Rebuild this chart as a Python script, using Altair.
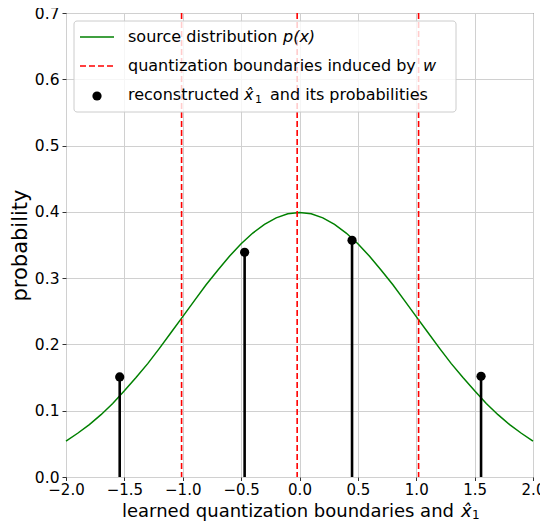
import altair as alt
import pandas as pd

# ---- data ----
curve_x = [-2.0, -1.9, -1.8, -1.7, -1.6, -1.5, -1.4, -1.3, -1.2, -1.1, -1.0,
           -0.9, -0.8, -0.7, -0.6, -0.5, -0.4, -0.3, -0.2, -0.1, 0.0,
           0.1, 0.2, 0.3, 0.4, 0.5, 0.6, 0.7, 0.8, 0.9, 1.0,
           1.1, 1.2, 1.3, 1.4, 1.5, 1.6, 1.7, 1.8, 1.9, 2.0]
curve_p = [0.054, 0.066, 0.079, 0.094, 0.111, 0.130, 0.150, 0.171, 0.194, 0.218, 0.242,
           0.266, 0.290, 0.312, 0.333, 0.352, 0.368, 0.381, 0.391, 0.397, 0.399,
           0.397, 0.391, 0.381, 0.368, 0.352, 0.333, 0.312, 0.290, 0.266, 0.242,
           0.218, 0.194, 0.171, 0.150, 0.130, 0.111, 0.094, 0.079, 0.066, 0.054]
boundaries = [-1.01, -0.02, 1.02]
recon_x = [-1.54, -0.47, 0.45, 1.555]
recon_p = [0.151, 0.339, 0.357, 0.152]
x_ticks = [-2.0, -1.5, -1.0, -0.5, 0.0, 0.5, 1.0, 1.5, 2.0]
y_ticks = [0.0, 0.1, 0.2, 0.3, 0.4, 0.5, 0.6, 0.7]

FONT = "DejaVu Sans"
W, H = 467, 464

curve_df = pd.DataFrame({"x": curve_x, "p": curve_p})
bound_df = pd.DataFrame({"b": boundaries})
recon_df = pd.DataFrame({"x": recon_x, "p": recon_p, "zero": [0.0] * len(recon_x)})
one = pd.DataFrame({"a": [0]})

xscale = alt.Scale(domain=[-2, 2], nice=False, zero=False)
yscale = alt.Scale(domain=[0, 0.7], nice=False)

xaxis = alt.Axis(values=x_ticks, format=".1f", title=None,
                 grid=True, gridColor="#d0d0d0", labelFontSize=15,
                 labelFont=FONT, tickSize=3.5, labelPadding=2, domain=False,
                 tickColor="#333", labelColor="#000", labelFlush=False)
yaxis = alt.Axis(values=y_ticks, format=".1f", title="probability",
                 grid=True, gridColor="#d0d0d0", labelFontSize=15.5, titleFontSize=21,
                 labelFont=FONT, titleFont=FONT, titleFontWeight="normal",
                 tickSize=4, labelPadding=3, titlePadding=4, domain=False,
                 tickColor="#333", labelColor="#000", titleColor="#000")

curve = alt.Chart(curve_df).mark_line(color="green", strokeWidth=1.5).encode(
    x=alt.X("x:Q", scale=xscale, axis=xaxis),
    y=alt.Y("p:Q", scale=yscale, axis=yaxis),
)

bounds = alt.Chart(bound_df).mark_rule(color="red", strokeWidth=1.6, strokeDash=[6, 3]).encode(
    x=alt.X("b:Q", scale=xscale),
)

stems = alt.Chart(recon_df).mark_rule(color="black", strokeWidth=2.6).encode(
    x=alt.X("x:Q", scale=xscale),
    y=alt.Y("zero:Q", scale=yscale),
    y2="p:Q",
)
dots = alt.Chart(recon_df).mark_circle(color="black", size=85, opacity=1).encode(
    x=alt.X("x:Q", scale=xscale),
    y=alt.Y("p:Q", scale=yscale),
)

# ---- manual legend (pixel positions inside the plot area) ----
box = alt.Chart(one).mark_rect(fill="white", fillOpacity=0.8, stroke="#cccccc",
                               strokeWidth=1, cornerRadius=3).encode(
    x=alt.value(8), x2=alt.value(390), y=alt.value(8), y2=alt.value(99))
sym1 = alt.Chart(one).mark_rule(color="green", strokeWidth=1.5).encode(
    x=alt.value(14), x2=alt.value(48), y=alt.value(24))
sym2 = alt.Chart(one).mark_rule(color="red", strokeWidth=1.6, strokeDash=[6, 3]).encode(
    x=alt.value(14), x2=alt.value(48), y=alt.value(53))
sym3 = alt.Chart(one).mark_circle(color="black", size=85, opacity=1).encode(
    x=alt.value(31), y=alt.value(83))

def txt(s, x, y, italic=False, size=16, baseline="middle"):
    return alt.Chart(one).mark_text(text=s, font=FONT, fontSize=size, align="left",
                                    baseline=baseline, color="#000",
                                    fontStyle="italic" if italic else "normal").encode(
        x=alt.value(x), y=alt.value(y))

legend = [box, sym1, sym2, sym3,
          txt("source distribution", 62, 24), txt("p(x)", 217, 24, True),
          txt("quantization boundaries induced by", 62, 53), txt("w", 357, 53, True),
          txt("reconstructed", 62, 82), txt("x̂", 178, 82, True),
          txt("1", 189, 87, size=11), txt("and its probabilities", 204, 82)]

xtitle = [txt("learned quantization boundaries and", 56, 504, size=18, baseline="alphabetic"),
          txt("x̂", 395, 504, True, size=18, baseline="alphabetic"),
          txt("1", 406, 506, size=12, baseline="alphabetic")]

chart = alt.layer(curve, bounds, stems, dots, *legend, *xtitle).properties(
    width=W, height=H,
    autosize=alt.AutoSizeParams(type="none"),
    padding={"left": 58, "top": 5, "right": 7, "bottom": 44},
).configure_view(stroke="#333", strokeWidth=1).configure_axis(gridWidth=1)

chart.save("out.html", embed_options={"renderer": "svg", "actions": False})
